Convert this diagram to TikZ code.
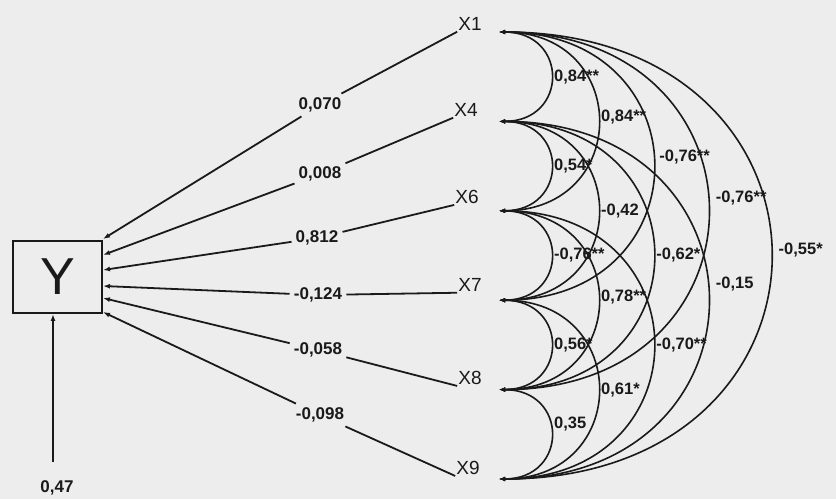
\documentclass[tikz,border=0pt]{standalone}
\usepackage{fontspec}
\setmainfont{Liberation Sans}
\usetikzlibrary{arrows.meta,calc}
\definecolor{bg}{HTML}{EDEDED}
\definecolor{ink}{HTML}{1A1A1A}
\begin{document}
\begin{tikzpicture}[x=1pt,y=-1pt,
  xl/.style={font=\fontsize{19}{19}\selectfont, inner sep=1pt, text=ink},
  coef/.style={font=\bfseries\fontsize{17}{17}\selectfont, inner sep=4pt, text=ink},
  corr/.style={font=\bfseries\fontsize{16.5}{16.5}\selectfont, inner sep=2pt, anchor=west, pos=0.5, text=ink},
  plain/.style={draw=ink, line width=1.8pt},
  tip/.style={-{Latex[length=7pt,width=5pt]}},
  corarc/.style={draw=ink, line width=1.6pt, {Latex[length=6pt,width=4.5pt]}-{Latex[length=6pt,width=4.5pt]}, out=0, in=0},
  sa/.style={corarc, looseness=2.0},
  sb/.style={corarc, looseness=1.9},
  sc/.style={corarc, looseness=1.97},
  sd/.style={corarc, looseness=2.0},
  se/.style={corarc, looseness=2.08}]
\fill[bg] (0,0) rectangle (836,499);
\useasboundingbox (0,0) rectangle (836,499);

% Y box
\node[draw=ink, line width=1.9pt, minimum width=89pt, minimum height=72pt, inner sep=0pt,
      font=\fontsize{52}{52}\selectfont, text=ink] (Y) at (57.5,277) {Y};
\node[coef] (r) at (57,488) {0,47};
\coordinate (rt) at (53,462);
\draw[plain,tip] (rt) -- (rt |- Y.south);

% variable labels
\node[xl] (x1) at (470,24) {X1};
\node[xl] (x4) at (466,110) {X4};
\node[xl] (x6) at (467,197) {X6};
\node[xl] (x7) at (470,285) {X7};
\node[xl] (x8) at (470,378) {X8};
\node[xl] (x9) at (468,468) {X9};

% dots (arc ends)
\foreach \i/\y in {0/32,1/121.4,2/210.8,3/300.2,4/389.6,5/479}
  \coordinate (d\i) at (499,\y);

% coefficients
\node[coef] (c1) at (320,105) {0,070};
\node[coef] (c2) at (320,174) {0,008};
\node[coef] (c3) at (317,238) {0,812};
\node[coef] (c4) at (318,295) {-0,124};
\node[coef] (c5) at (318,350) {-0,058};
\node[coef] (c6) at (320,415) {-0,098};

\coordinate (e1) at (103,239);
\coordinate (e2) at (103,255);
\coordinate (e3) at (103,270);
\coordinate (e4) at (103,286);
\coordinate (e5) at (103,298);
\coordinate (e6) at (103,312);

\draw[plain] (x1.south west) -- (c1);
\draw[plain,tip] (c1) -- (e1);
\draw[plain] (x4.south west) -- (c2);
\draw[plain,tip] (c2) -- (e2);
\draw[plain] (x6.south west) -- (c3);
\draw[plain,tip] (c3) -- (e3);
\draw[plain] (x7.south west) -- (c4);
\draw[plain,tip] (c4) -- (e4);
\draw[plain] (x8.south west) -- (c5);
\draw[plain,tip] (c5) -- (e5);
\draw[plain] (x9.south west) -- (c6);
\draw[plain,tip] (c6) -- (e6);

% correlations
\draw[sa] (d0) to node[corr]{0,84**} (d1);
\draw[sb] (d0) to node[corr, yshift=4pt]{0,84**} (d2);
\draw[sc] (d0) to node[corr, yshift=9pt, xshift=3pt]{-0,76**} (d3);
\draw[sd] (d0) to node[corr, yshift=13pt, xshift=5pt]{-0,76**} (d4);
\draw[se] (d0) to node[corr, yshift=5pt, xshift=5pt]{-0,55*} (d5);

\draw[sa] (d1) to node[corr]{0,54*} (d2);
\draw[sb] (d1) to node[corr]{-0,42} (d3);
\draw[sc] (d1) to node[corr]{-0,62*} (d4);
\draw[sd] (d1) to node[corr, yshift=16pt, xshift=5pt]{-0,15} (d5);

\draw[sa] (d2) to node[corr]{-0,76**} (d3);
\draw[sb] (d2) to node[corr, yshift=3pt]{0,78**} (d4);
\draw[sc] (d2) to node[corr]{-0,70**} (d5);

\draw[sa] (d3) to node[corr]{0,56*} (d4);
\draw[sb] (d3) to node[corr]{0,61*} (d5);

\draw[sa] (d4) to node[corr, yshift=10pt]{0,35} (d5);
\end{tikzpicture}
\end{document}
